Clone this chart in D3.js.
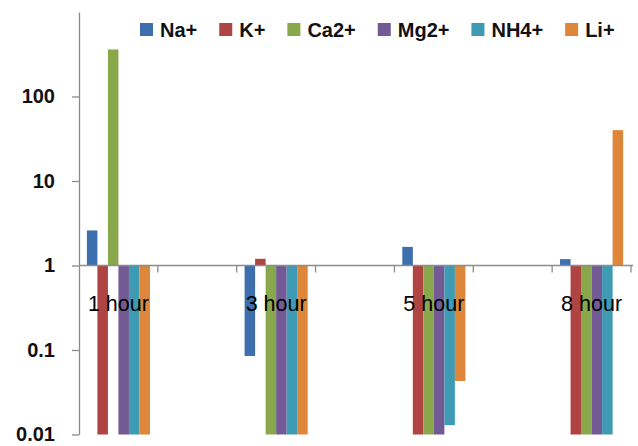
<!DOCTYPE html>
<html>
<head>
<meta charset="utf-8">
<script src="https://cdn.jsdelivr.net/npm/d3@7"></script>
<style>
  html, body { margin: 0; padding: 0; background: #fff; }
  svg { display: block; font-family: "Liberation Sans", Arial, sans-serif; }
</style>
</head>
<body>
<svg id="chart" width="638" height="446"></svg>
<script>
// Time points (blank slots keep the even spacing between measurements)
const categories = ["1 hour", "", "3 hour", "", "5 hour", "", "8 hour"];
const seriesNames = ["Na+", "K+", "Ca2+", "Mg2+", "NH4+", "Li+"];
const seriesColors = ["#3d6fae", "#ae4542", "#89a84b", "#735a94", "#3e9bb3", "#de8639"];

// Ratios per ion (log scale, bars grow from 1)
const naValues   = [2.6,  null, 0.085, null, 1.66,  null, 1.19];
const kValues    = [0.01, null, 1.2,   null, 0.01,  null, 0.01];
const caValues   = [360,  null, 0.01,  null, 0.01,  null, 0.01];
const mgValues   = [0.01, null, 0.01,  null, 0.01,  null, 0.01];
const nh4Values  = [0.01, null, 0.01,  null, 0.0129, null, 0.01];
const liValues   = [0.01, null, 0.01,  null, 0.043, null, 40];

const yTicks = [0.01, 0.1, 1, 10, 100];
const yTickLabels = ["0.01", "0.1", "1", "10", "100"];

const seriesValues = [naValues, kValues, caValues, mgValues, nh4Values, liValues];

const svg = d3.select("#chart");
const plot = { left: 79, right: 631, top: 12, bottom: 434.5 };
const axisColor = "#8c8c8c";

const y = d3.scaleLog().domain([0.01, 1000]).range([plot.bottom, plot.top]);
const x = d3.scaleBand().domain(d3.range(categories.length)).range([plot.left, plot.right]).padding(0);
const xs = d3.scaleBand().domain(seriesNames).range([0, x.bandwidth()]).paddingInner(0).paddingOuter(0.75);

const base = y(1);

// Bars
const bars = [];
seriesNames.forEach((name, si) => {
  seriesValues[si].forEach((v, ci) => {
    if (v == null) return;
    bars.push({ name, si, ci, v });
  });
});
svg.append("g").selectAll("rect").data(bars).join("rect")
  .attr("x", d => x(d.ci) + xs(d.name))
  .attr("width", xs.bandwidth())
  .attr("y", d => Math.min(y(d.v), base))
  .attr("height", d => Math.abs(y(d.v) - base))
  .attr("fill", d => seriesColors[d.si]);

// Y axis
const yAxis = d3.axisLeft(y)
  .tickValues(yTicks)
  .tickFormat((d, i) => yTickLabels[i])
  .tickSize(7)
  .tickSizeOuter(0)
  .tickPadding(17);
const gy = svg.append("g").attr("transform", `translate(${plot.left},0)`).call(yAxis);
gy.select(".domain").attr("stroke", axisColor).attr("stroke-width", 1.3);
gy.selectAll(".tick line").attr("stroke", axisColor).attr("stroke-width", 1.3);
gy.selectAll(".tick text")
  .attr("fill", "#111")
  .style("font-size", "20px")
  .style("font-weight", "bold");

// Horizontal axis at 1 with category boundary ticks
const gx = svg.append("g");
gx.append("line")
  .attr("x1", plot.left).attr("x2", plot.right + 2)
  .attr("y1", base).attr("y2", base)
  .attr("stroke", axisColor).attr("stroke-width", 1.3);
gx.selectAll("line.tick").data(d3.range(1, categories.length + 1)).join("line")
  .attr("class", "tick")
  .attr("x1", i => x(i - 1) + x.bandwidth())
  .attr("x2", i => x(i - 1) + x.bandwidth())
  .attr("y1", base).attr("y2", base + 7)
  .attr("stroke", axisColor).attr("stroke-width", 1.3);

// Category labels (drawn over the bars)
const catLabels = svg.append("g").selectAll("text")
  .data(categories.map((c, i) => ({ c, i })).filter(d => d.c))
  .join("text")
  .attr("x", d => x(d.i) + x.bandwidth() / 2)
  .attr("y", 311)
  .attr("text-anchor", "middle")
  .attr("fill", "#000")
  .style("font-family", "'Liberation Sans Narrow', 'Liberation Sans', sans-serif")
  .style("font-size", "25px")
  .text(d => d.c);
// keep labels about 61px wide whichever face is available
catLabels.each(function () {
  const w = this.getComputedTextLength();
  if (w > 64) d3.select(this).style("font-size", (25 * 61 / w).toFixed(1) + "px");
});

// Legend
const legend = svg.append("g");
let lx = 140;
seriesNames.forEach((name, i) => {
  legend.append("rect")
    .attr("x", lx).attr("y", 23)
    .attr("width", 13).attr("height", 13)
    .attr("fill", seriesColors[i]);
  const t = legend.append("text")
    .attr("x", lx + 20).attr("y", 37)
    .attr("fill", "#111")
    .style("font-size", "20px")
    .style("font-weight", "bold")
    .text(name);
  lx += 20 + t.node().getComputedTextLength() + 22;
});
</script>
</body>
</html>
